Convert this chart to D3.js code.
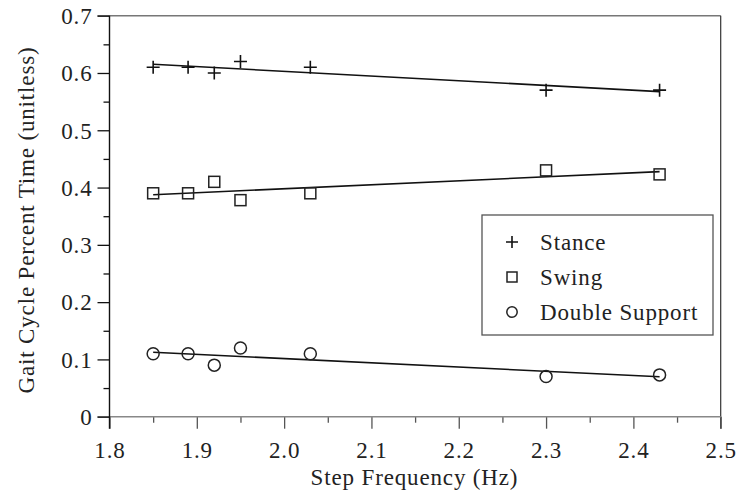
<!DOCTYPE html>
<html lang="en">
<head>
  <meta charset="utf-8"/>
  <title>Gait Cycle Percent Time</title>
  <style>
    body { margin: 0; background: #fff; }
  </style>
</head>
<body>
<div id="chart"></div>
<script src="https://cdn.jsdelivr.net/npm/d3@7/dist/d3.min.js"></script>
<script>

  // data
  let stepFrequency = [1.85, 1.89, 1.92, 1.95, 2.03, 2.30, 2.43];
  let stance = [0.61, 0.61, 0.60, 0.62, 0.61, 0.57, 0.57];
  let swing = [0.39, 0.39, 0.41, 0.378, 0.39, 0.43, 0.423];
  let doubleSupport = [0.11, 0.11, 0.09, 0.12, 0.11, 0.07, 0.073];
  let seriesNames = ['Stance', 'Swing', 'Double Support'];
  let xTicks = [1.8, 1.9, 2.0, 2.1, 2.2, 2.3, 2.4, 2.5];
  let yTicks = [0, 0.1, 0.2, 0.3, 0.4, 0.5, 0.6, 0.7];

  let fontFamily = "'Liberation Serif', 'DejaVu Serif', serif";
  let spacing = '0.85px';

  let width = 736, height = 498;
  let margin = {top: 15.7, right: 15.3, bottom: 81.3, left: 109.5};

  let svg = d3.select('#chart').append('svg')
    .attr('width', width)
    .attr('height', height)
    .attr('font-family', fontFamily);

  let x = d3.scaleLinear().domain([1.8, 2.5]).range([margin.left, width - margin.right]);
  let y = d3.scaleLinear().domain([0, 0.7]).range([height - margin.bottom, margin.top]);

  let minorX = d3.range(1.85, 2.5, 0.1);
  let minorY = d3.range(0.05, 0.7, 0.1);

  // least squares fit for the trend lines
  function fit(xs, ys) {
    let mx = d3.mean(xs), my = d3.mean(ys);
    let sxy = d3.sum(xs, (v, i) => (v - mx) * (ys[i] - my));
    let sxx = d3.sum(xs, v => (v - mx) * (v - mx));
    let slope = sxy / sxx;
    return v => my + slope * (v - mx);
  }

  // frame: top and right borders
  svg.append('line')
    .attr('x1', margin.left - 12).attr('x2', x(2.5))
    .attr('y1', y(0.7)).attr('y2', y(0.7))
    .attr('stroke', '#777').attr('stroke-width', 1.4);
  svg.append('line')
    .attr('x1', x(2.5)).attr('x2', x(2.5))
    .attr('y1', y(0.7)).attr('y2', y(0) + 12)
    .attr('stroke', '#333').attr('stroke-width', 1.2);

  // x axis
  let xAxis = svg.append('g')
    .attr('transform', `translate(0,${y(0)})`)
    .call(d3.axisBottom(x).tickValues(xTicks).tickSize(12).tickSizeOuter(0).tickFormat(d3.format('.1f')));
  xAxis.attr('font-family', fontFamily).attr('font-size', 23);
  xAxis.select('.domain').remove();
  xAxis.selectAll('.tick line').attr('stroke', '#555').attr('stroke-width', 1.3);
  xAxis.selectAll('.tick text').attr('dy', 0).attr('y', 41.5).attr('fill', '#222')
    .style('letter-spacing', spacing);

  svg.append('g')
    .attr('transform', `translate(0,${y(0)})`)
    .call(d3.axisBottom(x).tickValues(minorX).tickSize(6).tickFormat(''))
    .call(g => g.select('.domain').remove())
    .selectAll('.tick line').attr('stroke', '#555').attr('stroke-width', 1.3);

  svg.append('line')
    .attr('x1', margin.left - 12).attr('x2', x(2.5))
    .attr('y1', y(0)).attr('y2', y(0))
    .attr('stroke', '#888').attr('stroke-width', 1.6);

  // y axis
  let yAxis = svg.append('g')
    .attr('transform', `translate(${x(1.8)},0)`)
    .call(d3.axisLeft(y).tickValues(yTicks).tickSize(12).tickSizeOuter(0)
      .tickFormat(d => d === 0 ? '0' : d3.format('.1f')(d)));
  yAxis.attr('font-family', fontFamily).attr('font-size', 23);
  yAxis.select('.domain').remove();
  yAxis.selectAll('.tick line').attr('stroke', '#111').attr('stroke-width', 1.3);
  yAxis.selectAll('.tick text').attr('x', -17).attr('dy', '0.34em').attr('fill', '#222')
    .style('letter-spacing', spacing);

  svg.append('g')
    .attr('transform', `translate(${x(1.8)},0)`)
    .call(d3.axisLeft(y).tickValues(minorY).tickSize(6).tickFormat(''))
    .call(g => g.select('.domain').remove())
    .selectAll('.tick line').attr('stroke', '#111').attr('stroke-width', 1.3);

  svg.append('line')
    .attr('x1', x(1.8)).attr('x2', x(1.8))
    .attr('y1', y(0.7)).attr('y2', y(0) + 12)
    .attr('stroke', '#111').attr('stroke-width', 1.4);

  // axis titles
  svg.append('text')
    .attr('x', 414.5)
    .attr('y', 485)
    .attr('text-anchor', 'middle')
    .attr('font-size', 23)
    .attr('fill', '#222')
    .style('letter-spacing', spacing)
    .text('Step Frequency (Hz)');

  svg.append('text')
    .attr('transform', 'translate(34,220) rotate(-90)')
    .attr('text-anchor', 'middle')
    .attr('font-size', 23)
    .attr('fill', '#222')
    .style('letter-spacing', spacing)
    .text('Gait Cycle Percent Time (unitless)');

  // markers
  let symbolDraw = {
    plus: function (g, s) {
      g.append('path')
        .attr('d', `M${-s},0H${s}M0,${-s}V${s}`)
        .attr('fill', 'none').attr('stroke', '#111').attr('stroke-width', 1.6);
    },
    square: function (g, s) {
      g.append('rect')
        .attr('x', -s).attr('y', -s).attr('width', 2 * s).attr('height', 2 * s)
        .attr('fill', 'none').attr('stroke', '#222').attr('stroke-width', 1.5);
    },
    circle: function (g, s) {
      g.append('circle')
        .attr('r', s)
        .attr('fill', 'none').attr('stroke', '#222').attr('stroke-width', 1.5);
    }
  };

  let series = [
    {name: seriesNames[0], values: stance, symbol: 'plus', size: 6.5, legendSize: 6},
    {name: seriesNames[1], values: swing, symbol: 'square', size: 5.5, legendSize: 5},
    {name: seriesNames[2], values: doubleSupport, symbol: 'circle', size: 6, legendSize: 5.2}
  ];

  let xFirst = d3.min(stepFrequency), xLast = d3.max(stepFrequency);

  series.forEach(function (s) {
    let f = fit(stepFrequency, s.values);
    svg.append('line')
      .attr('x1', x(xFirst)).attr('y1', y(f(xFirst)))
      .attr('x2', x(xLast)).attr('y2', y(f(xLast)))
      .attr('stroke', '#111').attr('stroke-width', 1.6);

    s.values.forEach(function (v, i) {
      let g = svg.append('g')
        .attr('transform', `translate(${x(stepFrequency[i])},${y(v)})`);
      symbolDraw[s.symbol](g, s.size);
    });
  });

  // legend
  let legend = svg.append('g').attr('transform', 'translate(482,215)');
  legend.append('rect')
    .attr('width', 231).attr('height', 120)
    .attr('fill', '#fff').attr('stroke', '#555').attr('stroke-width', 1.3);

  series.forEach(function (s, i) {
    let row = legend.append('g').attr('transform', `translate(0,${27 + i * 35})`);
    let mark = row.append('g').attr('transform', 'translate(30,0)');
    symbolDraw[s.symbol](mark, s.legendSize);
    row.append('text')
      .attr('x', 58)
      .attr('dy', '0.34em')
      .attr('font-size', 23)
      .attr('fill', '#222')
      .style('letter-spacing', spacing)
      .text(s.name);
  });

</script>
</body>
</html>
